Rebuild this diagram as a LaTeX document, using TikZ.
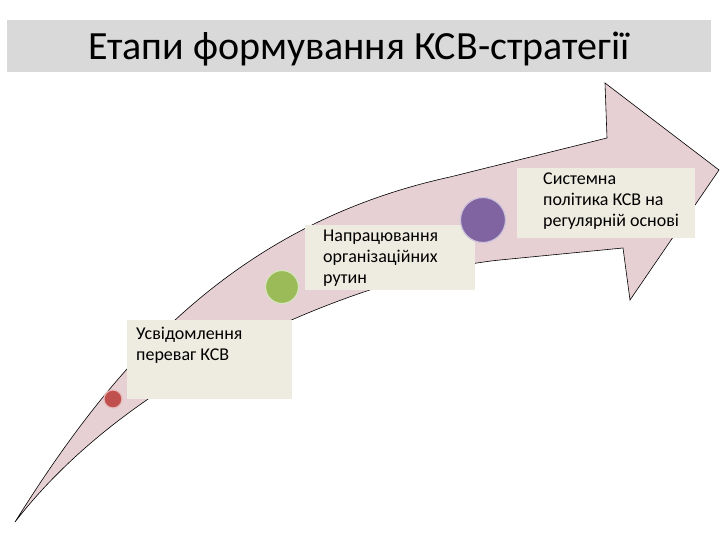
\documentclass[tikz,border=0pt]{standalone}
\usepackage{fontspec}
\setmainfont{Carlito}
\definecolor{bandgray}{RGB}{217,217,217}
\definecolor{arrowpink}{RGB}{230,208,212}
\definecolor{stagebg}{RGB}{238,236,225}
\definecolor{dotred}{RGB}{192,80,77}
\definecolor{dotgreen}{RGB}{155,187,89}
\definecolor{dotpurple}{RGB}{128,100,162}

\begin{document}
\begin{tikzpicture}[x=1pt, y=1pt,
    titleband/.style={fill=bandgray, inner sep=0pt, minimum width=704pt, minimum height=52pt, text height=34pt, text depth=6pt, font=\fontsize{40}{48}\selectfont},
    stagebox/.style={fill=stagebg, inner sep=0pt, anchor=south west},
    stagetext/.style={anchor=north west, inner sep=0pt, align=left, font=\fontsize{18}{21}\selectfont},
    dot/.style={circle, inner sep=0pt, fill=#1, draw=#1!40!white, line width=1.2pt}]
  \useasboundingbox (0,0) rectangle (720,540);
  \node[titleband] (title) at (359,494) {Етапи формування КСВ-стратегії};
  \draw[fill=arrowpink, line width=0.6pt]
    (15,18) .. controls (110,170) and (230,315) .. (450,363) -- (607,402) -- (605,457)
    -- (719,370) -- (630,240) -- (623,292) -- (500,280)
    .. controls (380,268) and (140,180) .. (15,18) -- cycle;
  \node[stagebox, minimum width=165pt, minimum height=79pt] (box1) at (127,141) {};
  \node[stagebox, minimum width=170pt, minimum height=65pt] (box2) at (305,250) {};
  \node[stagebox, minimum width=178pt, minimum height=70pt] (box3) at (517,302) {};
  \node[stagetext] (text1) at ([shift={(9pt,-7pt)}]box1.north west) {Усвідомлення\\переваг КСВ};
  \node[stagetext] (text2) at ([shift={(18pt,-5pt)}]box2.north west) {Напрацювання\\організаційних\\рутин};
  \node[stagetext] (text3) at ([shift={(26pt,-5pt)}]box3.north west) {Системна\\політика КСВ на\\регулярній основі};
  \node[dot=dotred, minimum size=18pt] (dot1) at (113,141) {};
  \node[dot=dotgreen, minimum size=33pt] (dot2) at (282,253) {};
  \node[dot=dotpurple, minimum size=45pt] (dot3) at (483,320) {};
\end{tikzpicture}
\end{document}
